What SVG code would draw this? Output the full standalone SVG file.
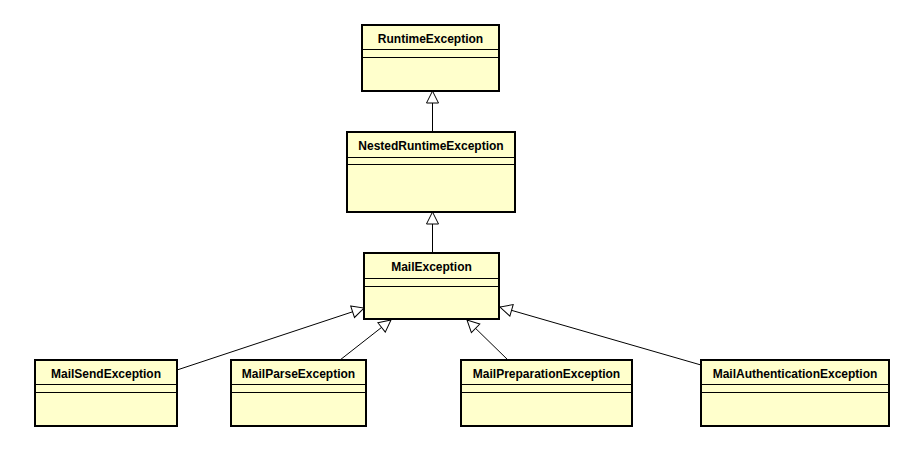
<svg xmlns="http://www.w3.org/2000/svg" width="903" height="449" viewBox="0 0 903 449">
<defs>
<style>
.box{fill:#FFFFCC;stroke:#000;stroke-width:2}
.div{stroke:#000;stroke-width:1;fill:none}
.t{font-family:"Liberation Sans",Arial,sans-serif;font-weight:bold;font-size:12px;text-anchor:middle;fill:#000}
.c{stroke:#000;stroke-width:1;fill:none;marker-end:url(#gen)}
</style>
<marker id="gen" markerUnits="userSpaceOnUse" markerWidth="14" markerHeight="14" refX="12" refY="6" orient="auto" viewBox="-1 -1 14 14">
<path d="M0,0 L12,6 L0,12 Z" fill="#fff" stroke="#000" stroke-width="1"/>
</marker>
</defs>
<rect width="903" height="449" fill="#fff"/>
<g id="connectors">
<line class="c" x1="432.5" y1="132" x2="432.5" y2="91"/>
<line class="c" x1="432.5" y1="253" x2="432.5" y2="212"/>
<line class="c" x1="177" y1="370" x2="364" y2="308"/>
<line class="c" x1="340" y1="360" x2="391" y2="320"/>
<line class="c" x1="509" y1="361" x2="467" y2="320"/>
<line class="c" x1="701" y1="365" x2="500" y2="307"/>
</g>
<g id="RuntimeException">
<rect class="box" x="362" y="25" width="137" height="66"/>
<line class="div" x1="362" y1="49.5" x2="499" y2="49.5"/>
<line class="div" x1="362" y1="57.5" x2="499" y2="57.5"/>
<text class="t" x="430.5" y="43">RuntimeException</text>
</g>
<g id="NestedRuntimeException">
<rect class="box" x="347" y="132" width="168" height="80"/>
<line class="div" x1="347" y1="157.5" x2="515" y2="157.5"/>
<line class="div" x1="347" y1="164.5" x2="515" y2="164.5"/>
<text class="t" x="431" y="150">NestedRuntimeException</text>
</g>
<g id="MailException">
<rect class="box" x="364" y="253" width="135" height="66"/>
<line class="div" x1="364" y1="278.5" x2="499" y2="278.5"/>
<line class="div" x1="364" y1="286.5" x2="499" y2="286.5"/>
<text class="t" x="431.5" y="271">MailException</text>
</g>
<g id="MailSendException">
<rect class="box" x="35" y="360" width="142" height="66"/>
<line class="div" x1="35" y1="384.5" x2="177" y2="384.5"/>
<line class="div" x1="35" y1="392.5" x2="177" y2="392.5"/>
<text class="t" x="106" y="378">MailSendException</text>
</g>
<g id="MailParseException">
<rect class="box" x="231" y="360" width="135" height="66"/>
<line class="div" x1="231" y1="384.5" x2="366" y2="384.5"/>
<line class="div" x1="231" y1="392.5" x2="366" y2="392.5"/>
<text class="t" x="298.5" y="378">MailParseException</text>
</g>
<g id="MailPreparationException">
<rect class="box" x="461" y="360" width="171" height="66"/>
<line class="div" x1="461" y1="384.5" x2="632" y2="384.5"/>
<line class="div" x1="461" y1="392.5" x2="632" y2="392.5"/>
<text class="t" x="546.5" y="378">MailPreparationException</text>
</g>
<g id="MailAuthenticationException">
<rect class="box" x="701" y="360" width="188" height="66"/>
<line class="div" x1="701" y1="384.5" x2="889" y2="384.5"/>
<line class="div" x1="701" y1="392.5" x2="889" y2="392.5"/>
<text class="t" x="795" y="378">MailAuthenticationException</text>
</g>
</svg>
